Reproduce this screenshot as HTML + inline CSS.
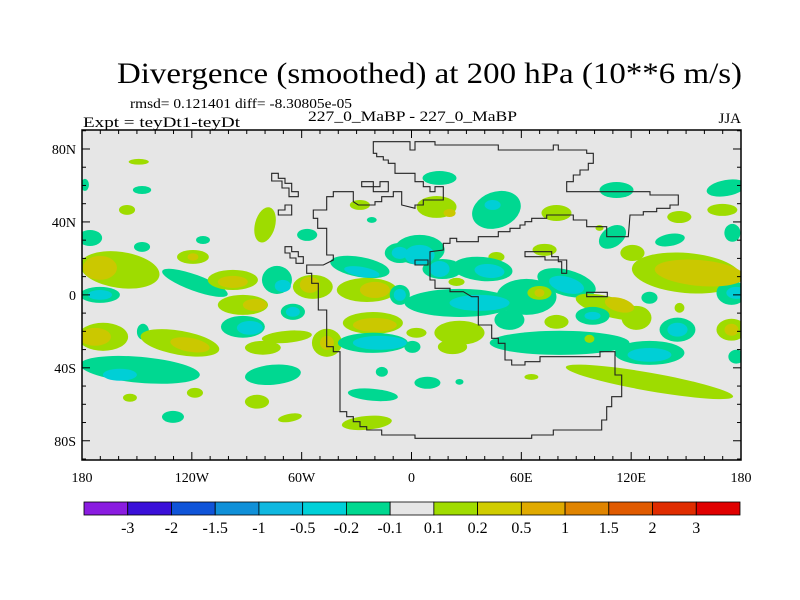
<!DOCTYPE html>
<html><head><meta charset="utf-8"><style>
body{margin:0;background:#fff}
svg{display:block;font-family:"Liberation Serif",serif}
</style></head><body>
<svg id="chart" width="800" height="600" viewBox="0 0 800 600">
<text x="117" y="83" font-size="30" textLength="625" lengthAdjust="spacingAndGlyphs">Divergence (smoothed) at 200 hPa (10**6 m/s)</text>
<text x="130" y="108" font-size="13.5" textLength="222" lengthAdjust="spacingAndGlyphs">rmsd= 0.121401 diff= -8.30805e-05</text>
<text x="83" y="127" font-size="15" textLength="157" lengthAdjust="spacingAndGlyphs">Expt = teyDt1-teyDt</text>
<text x="308" y="121" font-size="15" textLength="209" lengthAdjust="spacingAndGlyphs">227_0_MaBP - 227_0_MaBP</text>
<text x="741" y="123" font-size="15" text-anchor="end">JJA</text>
<defs><clipPath id="plotclip"><rect x="82" y="130" width="659" height="330"/></clipPath></defs>
<rect x="82" y="130" width="659" height="330" fill="#e6e6e6"/>
<g id="blobs" clip-path="url(#plotclip)"></g>
<g id="coast" clip-path="url(#plotclip)" fill="none" stroke="#222" stroke-width="1.1"></g>
<g id="axes"></g>
<g id="cbar"></g>
</svg>
<script>
// ---- data: anomaly blobs (lon, lat, half-width deg, half-height deg, level, tilt)
const blobLon=[-149,-147.2,-155.4,-178.4,-80,-57,-175.6,-147.2,-113.9,-119.4,-118.3,-159.3,-170.2,-170.2,-170.2,-97.6,-97.6,-92.1,-85.5,-73.5,-70.3,-64.8,-64.8,-92.1,-88.3,-53.9,-55.5,-168.5,-172.9,-146.7,-126.5,-121,-68.1,-81.2,-46.2,-46.2,-148.3,-159.3,-75.7,-153.8,-118.3,-84.4,-130.3,-66.4,-24.4,-21.1,-16.2,-28.2,-27.1,-24.4,-20,-21.1,-20,-21.1,-17.3,-6.4,-6.4,-28.2,-21.7,-6.4,-6.4,-119.4,
15.3,13.7,20.8,46.4,44.3,79.2,112,172,169.8,146.3,109.8,175.3,141.2,120.7,72.7,46.4,4.4,4.4,16.9,15.3,38.8,42.6,24.6,84.7,84.7,26.2,37.2,62.8,80.9,130,130,69.9,69.9,108.2,113.6,122.9,98.9,98.9,79.2,97.2,150.3,157.4,174.8,177.5,130,146.4,145.3,145.3,174.8,174.8,177.5,26.2,22.4,2.7,0.5,130,8.7,26.2,65.5,102.7,53.5];
const blobLat=[73,57.5,46.6,60.3,38.4,32.9,31.2,26.3,30.1,20.8,6.6,13.7,14.8,0,0,8.2,7.1,-5.5,-5.5,8.2,4.9,-9.3,-9.3,-17.5,-18.1,4.4,5.5,-23,-23,-20.2,-26.3,-27.4,-23,-29,-26.3,-26.3,-41.1,-43.8,-43.8,-56.4,-53.7,-58.6,-66.9,-67.4,-70.2,-54.8,-42.2,15.3,12.6,2.7,2.7,-15.4,-16.5,-26.3,-26.3,23,23,49.3,41.1,0,0,20.8,
64.1,48.2,44.9,46.6,49.3,44.9,57.5,58.6,46.6,42.7,31.8,34,30.1,23,24.7,20.8,24.7,21.9,14.2,14.2,14.2,13.1,7.1,6.6,5.5,-4.4,-4.4,-1.1,-26.3,-31.8,-32.9,1.1,1.1,-6.6,-5.5,-12.6,-11.5,-11.5,-14.8,-24.1,12,12,1.1,1.1,-1.6,-7.1,-19.1,-19.1,-19.1,-19.1,-33.9,-20.8,-28.5,-20.8,-28.5,-47.7,-48.2,-47.7,-45,36.7,-13.7];
const blobRx=[5.5,5,4.4,2.2,5.5,5.5,6.6,4.4,3.8,8.7,19,21.8,9.3,10.9,6.6,13.7,8.2,13.7,6.6,8.2,4.4,6.6,3.8,12,7.1,10.9,5.5,13.7,8.7,3.3,21.8,10.9,13.7,9.8,8.2,3.8,32.8,9.3,15.3,3.8,4.4,6.6,6,6.6,13.7,13.7,3.3,16.4,9.8,16.4,8.2,16.4,12,19.1,14.7,8.2,4.4,5.5,2.7,5.5,3.3,3,
9.3,10.9,3.3,13.7,4.4,8.2,9.3,10.9,8.2,6.6,8.2,4.4,8.2,6.6,6.6,4.4,13.7,8.2,10.9,5.5,16.4,8.2,4.4,16.4,9.8,30,16.4,16.4,38.2,19.1,12,6.6,2.7,19.1,8.2,8.2,9.3,4.4,6.6,2.7,30,24.6,8.2,5.5,4.4,2.7,9.8,5.5,8.2,3.8,4.4,13.7,8,5.5,4.4,46.4,7.1,2.2,3.8,2.2,8.2];
const blobRy=[1.6,2.2,2.7,3.3,9.9,3.3,4.4,2.7,2.2,3.8,4.4,9.9,6.6,4.4,2.7,5.5,3.3,5.5,3.3,7.7,3.3,4.4,2.7,6,3.8,6.6,4.4,7.7,4.9,4.4,6.6,3.8,3.3,3.8,7.7,3.8,7.1,3.3,5.5,2.2,2.7,3.8,3.3,2.2,3.8,3.3,2.7,5.5,2.7,6.6,4.4,6,3.8,5.5,3.8,5.5,3.3,2.7,1.6,5.5,3.3,2,
3.8,6,2.2,9.9,2.7,4.4,4.4,4.4,3.3,3.3,5.5,4.9,3.3,4.4,3.3,2.7,8.2,5.5,5.5,4.4,6.6,3.8,2.2,7.1,4.4,7.7,4.4,9.9,6.6,6.6,3.8,3.8,2.2,5.5,3.8,6.6,4.9,2.2,3.8,2.2,11,7.1,6.6,3.3,3.3,2.7,6.6,3.8,6,3.3,3.8,6.6,4,2.7,3.3,5,3.3,1.6,1.6,1.6,5.5];
const blobLevel=[1,-1,1,-1,1,-1,-1,-1,-1,1,-1,1,2,-1,-2,1,2,1,2,-1,-2,-1,-2,-1,-2,1,2,1,2,-1,1,2,1,1,1,2,-1,-2,-1,1,1,1,-1,1,1,-1,-1,-1,-2,1,2,1,2,-1,-2,-1,-2,1,-1,-1,-2,2,
-1,1,2,-1,-2,1,-1,-1,1,1,-1,-1,-1,1,1,1,-1,-2,-1,-2,-1,-2,1,-1,-2,-1,-2,-1,-1,-1,-2,1,2,1,2,1,-1,-2,1,1,1,2,-1,-2,-1,1,-1,-2,1,2,-1,1,1,1,-1,1,-1,-1,1,1,-1];
const blobTilt=[0,0,0,0,15,0,0,0,0,0,20,8,0,0,0,0,0,0,0,0,0,0,0,0,0,0,0,0,0,0,10,10,-5,0,0,0,5,0,-5,0,0,0,0,-10,-5,5,0,10,10,0,0,0,0,0,0,0,0,0,0,0,0,0,
0,0,0,-20,0,0,0,-10,0,0,-35,0,-10,0,0,0,0,0,0,0,5,5,0,15,15,0,0,0,0,0,0,0,0,15,15,0,0,0,0,0,5,5,0,0,0,0,0,0,0,0,0,0,0,0,0,10,0,0,0,0,0];
// ---- axis tick data
const latTicks=[80,40,0,-40,-80];
const latLabels=["80N","40N","0","40S","80S"];
const lonTicks=[-180,-120,-60,0,60,120,180];
const lonLabels=["180","120W","60W","0","60E","120E","180"];
const cbarColors=["#8a1ce0","#3a10d8","#1054d8","#1090d8","#10b8e0","#00d0d8","#00d890","#e6e6e6","#a0dc00","#d0cc00","#e0aa00","#e08400","#e05a00","#e02c00","#e00000"];
const cbarLabels=["-3","-2","-1.5","-1","-0.5","-0.2","-0.1","0.1","0.2","0.5","1","1.5","2","3"];

const NS="http://www.w3.org/2000/svg";
const X0=82,X1=741,Y0=130.75,Y1=459;
function X(lon){return X0+(lon+180)*(X1-X0)/360;}
function Y(lat){return Y0+(90-lat)*(Y1-Y0)/180;}
function mk(tag,attrs,parent){const e=document.createElementNS(NS,tag);for(const k in attrs)e.setAttribute(k,attrs[k]);parent.appendChild(e);return e;}
const levelColor={"-2":"#00cfd6","-1":"#00d891","1":"#9edc00","2":"#cbc800"};

const gB=document.getElementById('blobs');
[1,2].forEach(pass=>{
  for(let i=0;i<blobLon.length;i++){
    if(Math.abs(blobLevel[i])!==pass)continue;
    const cx=X(blobLon[i]),cy=Y(blobLat[i]);
    const e=mk('ellipse',{cx:cx,cy:cy,rx:blobRx[i]*(X1-X0)/360,ry:blobRy[i]*(Y1-Y0)/180,fill:levelColor[blobLevel[i]],transform:'rotate('+blobTilt[i]+' '+cx+' '+cy+')'},gB);
    
    
  }
});

// ---- coastline outlines (pixel traced)
const coastPolys=[
"313.3,210 313.3,218.3 317.7,218.3 317.7,228.3 326.7,228.3 326.7,255 333.3,255 333.3,260 323.3,265 306.7,265 306.7,273.3 311.7,273.3 311.7,283.3 318.3,283.3 318.3,310 326.7,310 326.7,346.7 333.3,346.7 333.3,351.7 340,351.7 340,411.7 346.7,411.7 346.7,416.7 353.3,416.7 353.3,421.7 360,421.7 360,426.7 366.7,426.7 366.7,430 381.7,430 381.7,435 415,435 415,438.3 531.7,438.3 531.7,435 553.3,435 553.3,430 601.7,430 601.7,420 606.7,420 606.7,406.7 611.7,406.7 611.7,396.7 621.7,396.7 621.7,375 615,375 615,351.7 600,351.7 600,356.7 540,356.7 540,361.7 525,361.7 525,365 511.7,365 511.7,360 505,360 505,343.3 498.3,343.3 498.3,338.3 491.7,338.3 491.7,325 478.3,325 478.3,296.7 471.7,296.7 463.3,291.7 450,291.7 450,288.3 435,288.3 435,280 430,280 430,251.7 443.3,250 443.3,243.3 450,243.3 450,238.3 456.7,238.3 456.7,241.7 478.3,241.7 478.3,236.7 498.3,236.7 498.3,231.7 510,231.7 510,228.3 520,228.3 520,225 525,225 525,221.7 531.7,221.7 531.7,218.3 546.7,218.3 546.7,215 573.3,215 573.3,220 586.7,220 586.7,226.7 606.7,226.7 606.7,236.7 628.3,236.7 630,215 643.3,215 643.3,211.7 656.7,211.7 656.7,208.3 670,208.3 670,205 678.3,205 678.3,195 650,195 650,191.7 566.7,191.7 566.7,181.7 573.3,181.7 573.3,175 580,175 580,170 588.3,170 588.3,163.3 593.3,163.3 593.3,153.3 586.7,153.3 586.7,150 558.3,150 558.3,145 553.3,145 553.3,150 498.3,150 498.3,145 435,145 435,141.7 415,141.7 415,150 410,150 410,141.7 373.3,141.7 373.3,153.3 376.7,153.3 376.7,156.7 383.3,156.7 383.3,160 388.3,160 388.3,163.3 395,163.3 395,173.3 415,173.3 415,181.7 423.3,181.7 423.3,186.7 430,186.7 430,191.7 435,191.7 435,186.7 443.3,186.7 443.3,200 423.3,200 423.3,205 415,205 415,208.3 401.7,205 401.7,191.7 393.3,191.7 393.3,196.7 381.7,196.7 381.7,201.7 375,201.7 375,205 358.3,205 353.3,201.7 353.3,191.7 333.3,191.7 333.3,196.7 326.7,196.7 326.7,210",
"271.7,173.3 278.3,173.3 278.3,178.3 285,178.3 285,183.3 291.7,183.3 291.7,191.7 298.3,191.7 298.3,196.7 289,196.7 289,188 282,188 282,181 271.7,181",
"278.3,210 285,210 285,205 291.7,205 291.7,215 278.3,215",
"285,246.7 291.7,246.7 291.7,251.7 298.3,251.7 298.3,256.7 303.3,256.7 303.3,263.3 296,263.3 296,258 290,258 290,253 285,253",
"361.7,181.7 373.3,181.7 373.3,186.7 380,186.7 380,181.7 388.3,181.7 388.3,191.7 373.3,191.7 373.3,186.7 361.7,186.7",
"525,251.7 551.7,251.7 551.7,256.7 558.3,256.7 558.3,261.7 561.7,261.7 561.7,273.3 566.7,273.3 566.7,260 545,260 545,256.7 525,256.7",
"586.7,292.3 607.3,292.3 607.3,296.7 586.7,296.7",
"415,260 428,260 428,265 415,265"];
const gC=document.getElementById('coast');
coastPolys.forEach(p=>{
  const e=mk('polygon',{points:p},gC);
  
  
});

// ---- axes
const gA=document.getElementById('axes');
const fr=mk('rect',{x:X0,y:130,width:X1-X0,height:330,fill:'none',stroke:'#000','stroke-width':1.5},gA);


for(let lat=-90;lat<=90;lat+=10){
  const y=Y(lat), major=latTicks.includes(lat), L=major?8:4;
  mk('line',{x1:X0,x2:X0+L,y1:y,y2:y,stroke:'#000'},gA);
  mk('line',{x1:X1,x2:X1-L,y1:y,y2:y,stroke:'#000'},gA);
}
for(let lon=-180;lon<=180;lon+=10){
  const x=X(lon), major=lonTicks.includes(lon), L=major?8:4;
  mk('line',{x1:x,x2:x,y1:130,y2:130+L,stroke:'#000'},gA);
  mk('line',{x1:x,x2:x,y1:460,y2:460-L,stroke:'#000'},gA);
}
latTicks.forEach((v,i)=>{
  const t=mk('text',{x:76,y:Y(v)+5,'font-size':14,'text-anchor':'end'},gA);
  t.textContent=latLabels[i];
  
  
});
lonTicks.forEach((v,i)=>{
  const t=mk('text',{x:X(v),y:482,'font-size':14,'text-anchor':'middle'},gA);
  t.textContent=lonLabels[i];
  
  
});

// ---- colorbar
const gCB=document.getElementById('cbar');
const cb0=84,cb1=740,cw=(cb1-cb0)/cbarColors.length;
cbarColors.forEach((c,i)=>{
  const r=mk('rect',{x:cb0+i*cw,y:502,width:cw,height:13,fill:c,stroke:'#000','stroke-width':0.8},gCB);
  
  
});
cbarLabels.forEach((l,i)=>{
  const t=mk('text',{x:cb0+(i+1)*cw,y:533,'font-size':16,'text-anchor':'middle'},gCB);
  t.textContent=l;
  
  
});
</script>
</body></html>
